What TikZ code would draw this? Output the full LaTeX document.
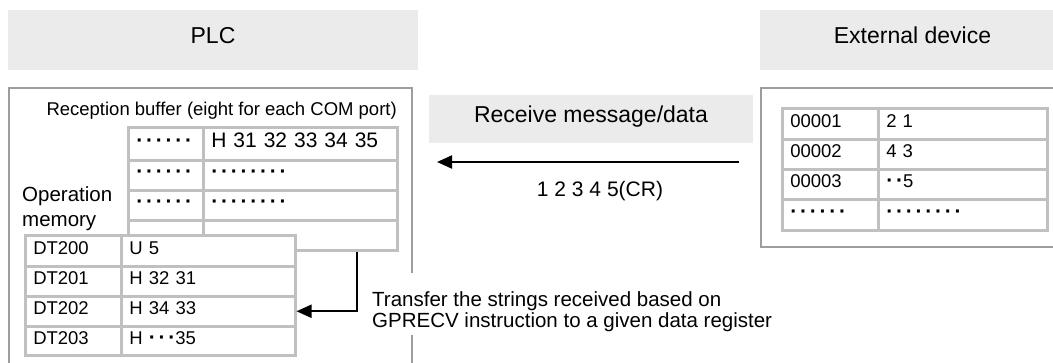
\documentclass[tikz,border=0pt]{standalone}
\usepackage{fontspec}
\setmainfont{Liberation Sans}
\usetikzlibrary{arrows.meta,calc}
\definecolor{hdr}{HTML}{EBEBEB}
\definecolor{frm}{HTML}{9D9D9D}
\definecolor{tbl}{HTML}{C0C0C0}
\newcommand\mydot{{\bfseries\fontsize{21}{22}\selectfont ·}\kern0.15em}
\newcommand\lastdot{{\bfseries\fontsize{21}{22}\selectfont ·}}
\tikzset{
  hdrbox/.style={fill=hdr, inner sep=0pt, text height=0.716em, text depth=0pt, font=\fontsize{23}{27}\selectfont},
  frame/.style={draw=frm, line width=2.2pt},
  cell/.style={draw=tbl, line width=2.5pt, fill=white, anchor=north west, inner xsep=8pt, inner ysep=0pt,
    align=left, text height=0.72em, text depth=0pt, font=\fontsize{18.5}{22}\selectfont},
  conn/.style={draw=black, line width=2pt, -{Triangle[length=15pt,width=13pt]}},
  lbl/.style={inner sep=0pt, font=\fontsize{20.5}{21}\selectfont, align=left},
}
\begin{document}
\begin{tikzpicture}[x=1pt,y=-1pt]
\useasboundingbox (0,0) rectangle (1053,362);
% headers
\node[hdrbox, minimum width=410pt, minimum height=60pt] (plc) at (213,40) {PLC};
\node[hdrbox, minimum width=305pt, minimum height=60pt] (ext) at (912.5,40) {External device};
% frames
\draw[frame] (412,273) -- (412,88) -- (9,88) -- (9,370);
\draw[frame] (412,335) -- (412,370);
\draw[frame] (1070,88) -- (761,88) -- (761,247) -- (1070,247);
% receive message
\node[hdrbox, minimum width=324pt, minimum height=48pt] (rcv) at (591,119) {Receive message/data};
\coordinate (arrS) at (739,162);
\coordinate (arrE) at (437,162);
\draw[conn] (arrS) -- (arrE);
\node[inner sep=0pt, anchor=base, font=\fontsize{21}{25}\selectfont] (seq) at (600,196) {1 2 3 4 5(CR)};
% reception buffer
\node[inner sep=0pt, anchor=base east, font=\fontsize{18.5}{22}\selectfont] (rbl) at (397,115) {Reception buffer (eight for each COM port)};
\node[cell, text width=59pt, minimum height=33pt] (bk1) at (127,126) {\mydot\mydot\mydot\mydot\mydot\lastdot};
\node[cell, text width=178pt, minimum height=33pt, font=\fontsize{21}{25}\selectfont] (bv1) at (202,126) {H 31 32 33 34 35};
\node[cell, text width=59pt, minimum height=30pt] (bk2) at (127,159) {\mydot\mydot\mydot\mydot\mydot\lastdot};
\node[cell, text width=178pt, minimum height=30pt] (bv2) at (202,159) {\mydot\mydot\mydot\mydot\mydot\mydot\mydot\lastdot};
\node[cell, text width=59pt, minimum height=30pt] (bk3) at (127,189) {\mydot\mydot\mydot\mydot\mydot\lastdot};
\node[cell, text width=178pt, minimum height=30pt] (bv3) at (202,189) {\mydot\mydot\mydot\mydot\mydot\mydot\mydot\lastdot};
\node[cell, text width=59pt, minimum height=30pt] (bk4) at (127,219) {};
\node[cell, text width=178pt, minimum height=30pt] (bv4) at (202,219) {};
% operation memory
\node[lbl, anchor=north west, font=\fontsize{20.5}{25}\selectfont] (opm) at (22,186) {Operation\\memory};
% DT table
\node[cell, text width=80pt, minimum height=31pt] (d0k) at (24,234) {DT200};
\node[cell, text width=158pt, minimum height=31pt] (d0v) at (120,234) {U 5};
\node[cell, text width=80pt, minimum height=30pt] (d1k) at (24,265) {DT201};
\node[cell, text width=158pt, minimum height=30pt] (d1v) at (120,265) {H 32 31};
\node[cell, text width=80pt, minimum height=30pt] (d2k) at (24,295) {DT202};
\node[cell, text width=158pt, minimum height=30pt] (d2v) at (120,295) {H 34 33};
\node[cell, text width=80pt, minimum height=29pt] (d3k) at (24,325) {DT203};
\node[cell, text width=158pt, minimum height=29pt] (d3v) at (120,325) {H \mydot\mydot\lastdot 35};
% transfer connector
\draw[conn] ($(bv4.south west)+(155,0)$) |- (d2v.east);
\node[lbl, anchor=north west] (xfer) at (372,291) {Transfer the strings received based on\\GPRECV instruction to a given data register};
% external table
\node[cell, text width=80pt, minimum height=31pt] (e0k) at (781,107) {00001};
\node[cell, text width=153pt, minimum height=31pt] (e0v) at (877,107) {2 1};
\node[cell, text width=80pt, minimum height=30pt] (e1k) at (781,138) {00002};
\node[cell, text width=153pt, minimum height=30pt] (e1v) at (877,138) {4 3};
\node[cell, text width=80pt, minimum height=30pt] (e2k) at (781,168) {00003};
\node[cell, text width=153pt, minimum height=30pt] (e2v) at (877,168) {\mydot\lastdot 5};
\node[cell, text width=80pt, minimum height=31pt] (e3k) at (781,198) {\mydot\mydot\mydot\mydot\mydot\lastdot};
\node[cell, text width=153pt, minimum height=31pt] (e3v) at (877,198) {\mydot\mydot\mydot\mydot\mydot\mydot\mydot\lastdot};
\end{tikzpicture}
\end{document}
